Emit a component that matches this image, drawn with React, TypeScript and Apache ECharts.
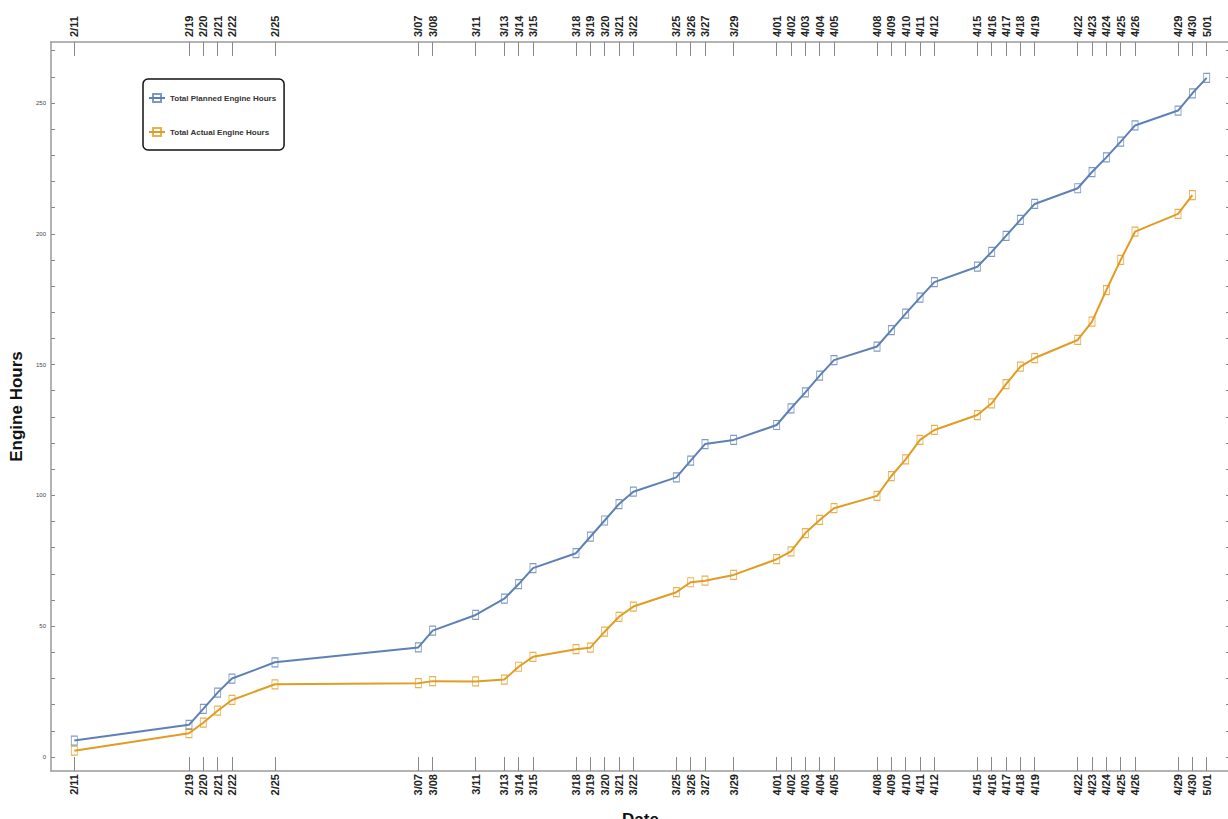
import React, { useEffect, useRef } from "react";
import * as echarts from "echarts";

const dates = ["2/11","2/19","2/20","2/21","2/22","2/25","3/07","3/08","3/11","3/13","3/14","3/15","3/18","3/19","3/20","3/21","3/22","3/25","3/26","3/27","3/29","4/01","4/02","4/03","4/04","4/05","4/08","4/09","4/10","4/11","4/12","4/15","4/16","4/17","4/18","4/19","4/22","4/23","4/24","4/25","4/26","4/29","4/30","5/01"];

const planned = [6.3, 12.3, 18.4, 24.6, 30, 36.2, 41.9, 48.3, 54.3, 60.5, 66.1, 72.2, 77.9, 84.2, 90.4, 96.7, 101.4, 106.9, 113.3, 119.6, 121.2, 126.9, 133.3, 139.4, 145.8, 151.7, 156.9, 163.2, 169.5, 175.6, 181.5, 187.4, 193.1, 199.2, 205.3, 211.4, 217.4, 223.6, 229.2, 235.2, 241.4, 247.1, 253.7, 259.6];

const actual = [2.4, 9.1, 13.1, 17.7, 21.8, 27.8, 28.2, 29.0, 28.9, 29.6, 34.5, 38.3, 41.2, 41.8, 47.9, 53.6, 57.5, 63.0, 66.8, 67.4, 69.6, 75.6, 78.6, 85.6, 90.6, 95.1, 99.8, 107.4, 113.8, 121.2, 125.0, 130.7, 135.2, 142.5, 149.2, 152.5, 159.4, 166.4, 178.5, 190.0, 200.8, 207.6, 214.8];

const yLabels = [0, 50, 100, 150, 200, 250];
const yTicks = [0, 10, 20, 30, 40, 50, 60, 70, 80, 90, 100, 110, 120, 130, 140, 150, 160, 170, 180, 190, 200, 210, 220, 230, 240, 250, 260, 270];

const YEAR = 2013;
const DAY = 86400000;
const toTs = (s: string) => {
  const [m, d] = s.split("/").map(Number);
  return Date.UTC(YEAR, m - 1, d);
};
const stamps = dates.map(toTs);
const labelOf = new Map<number, string>(stamps.map((t, i) => [t, dates[i]]));

const FONT = "Liberation Sans, Arial, sans-serif";
const BLUE = "#5e81b5";
const ORANGE = "#e19c24";
const FRAME = "#9a9a9a";

export default function App() {
  const ref = useRef<HTMLDivElement>(null);
  useEffect(() => {
    if (!ref.current) return;
    const chart = echarts.init(ref.current, undefined, { renderer: "svg" });
    const xMin = stamps[0] - 1.625 * DAY;
    const xMax = stamps[stamps.length - 1] + 1.625 * DAY;
    const xCommon = (position: "top" | "bottom") => ({
      type: "value" as const,
      position,
      min: xMin,
      max: xMax,
      splitLine: { show: false },
      axisLine: { show: true, onZero: false, lineStyle: { color: FRAME, width: 1.5 } },
      axisTick: {
        show: true,
        inside: true,
        length: 14,
        customValues: stamps,
        lineStyle: { color: "#888", width: 1 },
      },
      axisLabel: {
        show: true,
        // ECharts negates the rotation of a top axis, so -90 reads bottom-to-top there
        rotate: position === "top" ? -90 : 90,
        margin: position === "top" ? 5 : 3,
        customValues: stamps,
        fontSize: 11,
        fontWeight: "bold" as const,
        fontFamily: FONT,
        color: "#222",
        formatter: (v: number) => labelOf.get(v) ?? "",
      },
    });
    const yCommon = (position: "left" | "right") => ({
      type: "value" as const,
      position,
      min: -5.35,
      max: 273.3,
      splitLine: { show: false },
      axisLine: { show: true, onZero: false, lineStyle: { color: FRAME, width: 1.5 } },
      axisTick: {
        show: true,
        inside: true,
        length: 4,
        customValues: yTicks,
        lineStyle: { color: "#888", width: 1 },
      },
      axisLabel: {
        show: position === "left",
        customValues: yLabels,
        fontSize: 6,
        fontFamily: FONT,
        color: "#444",
        margin: 5,
      },
    });
    const makeSeries = (name: string, vals: number[], color: string) => ({
      name,
      type: "line" as const,
      xAxisIndex: 0,
      yAxisIndex: 0,
      data: vals.map((v, i) => [stamps[i], v]),
      symbol: "rect",
      symbolSize: [6, 9],
      lineStyle: { color, width: 2 },
      itemStyle: { color: "rgba(255,255,255,0)", borderColor: color, borderWidth: 1, opacity: 0.8 },
    });
    chart.setOption({
      animation: false,
      backgroundColor: "#ffffff",
      textStyle: { fontFamily: FONT },
      grid: { left: 51, top: 42, bottom: 48, right: -2, containLabel: false, outerBoundsMode: "none" },
      legend: {
        left: 143,
        top: 79,
        orient: "vertical",
        padding: [14, 8, 13, 5],
        itemGap: 24,
        itemWidth: 16,
        itemHeight: 10,
        borderColor: "#111",
        borderWidth: 1.5,
        borderRadius: 5,
        textStyle: { fontSize: 8, fontWeight: "bold", color: "#333", fontFamily: FONT },
        data: ["Total Planned Engine Hours", "Total Actual Engine Hours"],
      },
      xAxis: [
        {
          ...xCommon("bottom"),
          name: "Date",
          nameLocation: "middle",
          nameGap: 40,
          nameTextStyle: { fontSize: 17, fontWeight: "bold", color: "#111", fontFamily: FONT },
        },
        xCommon("top"),
      ],
      yAxis: [
        {
          ...yCommon("left"),
          name: "Engine Hours",
          nameLocation: "middle",
          nameGap: 25,
          nameTextStyle: { fontSize: 17, fontWeight: "bold", color: "#111", fontFamily: FONT },
        },
        yCommon("right"),
      ],
      series: [
        makeSeries("Total Planned Engine Hours", planned, BLUE),
        makeSeries("Total Actual Engine Hours", actual, ORANGE),
      ],
    });
    return () => chart.dispose();
  }, []);
  return (
    <div
      ref={ref}
      style={{ position: "absolute", left: 0, top: 0, width: 1228, height: 819, background: "#fff" }}
    />
  );
}
